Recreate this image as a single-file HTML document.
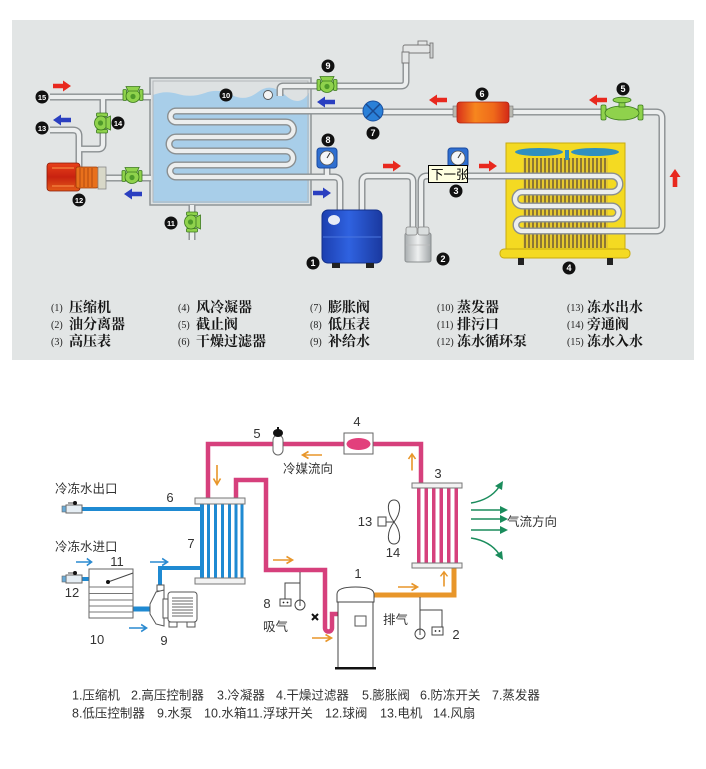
<!DOCTYPE html>
<html><head><meta charset="utf-8">
<style>
html,body{margin:0;padding:0;background:#fff;width:706px;height:769px;overflow:hidden;}
svg{display:block;}
.po{fill:none;stroke:#8a8f91;stroke-width:7;stroke-linejoin:round;stroke-linecap:butt;}
.pi{fill:none;stroke:#eceeee;stroke-width:4.2;stroke-linejoin:round;stroke-linecap:butt;}
.lb{fill:#fff;font-family:"Liberation Sans",sans-serif;font-weight:bold;font-size:9px;text-anchor:middle;}
.lb2{fill:#fff;font-family:"Liberation Sans",sans-serif;font-weight:bold;font-size:7.5px;text-anchor:middle;}
.lg{font-family:"Liberation Serif","Noto Serif CJK SC",serif;font-weight:bold;font-size:14px;fill:#151515;}
.ln{font-family:"Liberation Serif",serif;font-size:10px;fill:#222;}
.bt{font-family:"Liberation Sans","Noto Sans CJK SC",sans-serif;font-size:12.5px;fill:#333;}
.bn{font-family:"Liberation Sans",sans-serif;font-size:13px;fill:#333;text-anchor:middle;}
.mg{fill:none;stroke:#d6407c;stroke-width:4.5;stroke-linejoin:miter;}
.bl{fill:none;stroke:#1f8ad2;stroke-width:4;}
.th{fill:none;stroke:#444;stroke-width:1;}
</style></head><body>
<svg width="706" height="769" viewBox="0 0 706 769" xmlns="http://www.w3.org/2000/svg" xmlns:xlink="http://www.w3.org/1999/xlink">
<defs>
 <linearGradient id="gBlue" x1="0" y1="0" x2="1" y2="0">
  <stop offset="0" stop-color="#1c3fb0"/><stop offset="0.45" stop-color="#2f62e0"/><stop offset="1" stop-color="#1a39a0"/>
 </linearGradient>
 <linearGradient id="gSil" x1="0" y1="0" x2="1" y2="0">
  <stop offset="0" stop-color="#a9aeb0"/><stop offset="0.5" stop-color="#eef0f0"/><stop offset="1" stop-color="#a0a5a7"/>
 </linearGradient>
 <linearGradient id="gFil" x1="0" y1="0" x2="1" y2="0">
  <stop offset="0" stop-color="#d9301a"/><stop offset="0.35" stop-color="#f6861e"/><stop offset="0.7" stop-color="#ef6a1a"/><stop offset="1" stop-color="#d42a18"/>
 </linearGradient>
 <linearGradient id="gPump" x1="0" y1="0" x2="0" y2="1">
  <stop offset="0" stop-color="#e8401a"/><stop offset="0.5" stop-color="#c82210"/><stop offset="1" stop-color="#e25a18"/>
 </linearGradient>
 <pattern id="fins" width="4" height="10" patternUnits="userSpaceOnUse">
  <rect width="4" height="10" fill="#e6c92e"/><rect width="2" height="10" fill="#8c7634"/>
 </pattern>
 <g id="gv">
  <rect x="-10" y="-5.5" width="3.5" height="11" rx="1" fill="#8fd24c" stroke="#3b7a1e" stroke-width="0.8"/>
  <rect x="6.5" y="-5.5" width="3.5" height="11" rx="1" fill="#8fd24c" stroke="#3b7a1e" stroke-width="0.8"/>
  <ellipse cx="0" cy="1" rx="7" ry="6.5" fill="#8fd24c" stroke="#3b7a1e" stroke-width="0.8"/>
  <path d="M-7 -8.5 L7 -8.5 L5 -4 L-5 -4 Z" fill="#8fd24c" stroke="#3b7a1e" stroke-width="0.8"/>
  <circle cx="0" cy="1.5" r="2.6" fill="#4f9a2a"/>
 </g>
 <path id="ar" d="M-9,-2.3 H1 V-5.5 L9,0 L1,5.5 V2.3 H-9 Z"/>
 <g id="oa"><path d="M-10 0 H9 M3.5 -3.5 L9.5 0 L3.5 3.5" fill="none" stroke-width="1.6"/></g>
 <g id="gauge">
  <rect x="-10" y="-10" width="20" height="20" rx="3" fill="#2f6fd0" stroke="#1a4aa0"/>
  <circle cx="0" cy="0" r="7" fill="#f4f6f8" stroke="#555" stroke-width="0.8"/>
  <line x1="0" y1="0" x2="3" y2="-5" stroke="#333" stroke-width="1"/>
 </g>
</defs>

<!-- ================= TOP PANEL ================= -->
<rect x="12" y="20" width="682" height="340" fill="#e2e5e5"/>

<!-- tank -->
<rect x="150" y="78" width="161" height="127" fill="#dde1e2" stroke="#8f9597" stroke-width="1.5"/>
<path d="M153 95 Q165 90 178 94 T205 93 T232 95 T258 92 T285 95 T309 93 V203 H153 Z" fill="#a8cee9"/>
<rect x="153" y="81" width="155" height="121" fill="none" stroke="#b3b8ba" stroke-width="1"/>

<!-- condenser body -->
<rect x="506" y="143" width="119" height="107" fill="#f4da22" stroke="#c8aa10"/>
<rect x="523" y="158" width="85" height="90" fill="url(#fins)"/>
<ellipse cx="539" cy="152" rx="24" ry="4" fill="#2f8fc0"/>
<ellipse cx="595" cy="152" rx="24" ry="4" fill="#2f8fc0"/>
<rect x="565" y="150" width="4" height="10" fill="#2f8fc0"/>
<rect x="500" y="249" width="130" height="9" rx="4" fill="#f4da22" stroke="#c8aa10"/>
<rect x="518" y="258" width="6" height="7" fill="#222"/>
<rect x="607" y="258" width="6" height="7" fill="#222"/>

<!-- pipes -->
<g>
 <path class="po" d="M50 97 L151 97"/>
 <path class="po" d="M103 97 L103 144 Q103 149 98 149 L80 149"/>
 <path class="po" d="M50 130 L73 130 Q79 130 79 136 L79 168"/>
 <path class="po" d="M104 178 L151 178"/>
 <path class="po" d="M192 205 L192 240"/>
 <path class="po" d="M280 96 L280 89 Q280 86 283 86 L401 86 Q406 86 406 81 L406 62"/>
 <path class="po" d="M383 111 L176 111 A5.5 5.5 0 0 0 176 122 L286 122 A7.5 7.5 0 0 1 286 137 L176 137 A7 7 0 0 0 176 151 L286 151 A7 7 0 0 1 286 165 L176 165 A6 6 0 0 0 176 177 L334 177 Q340 177 340 183 L340 211"/>
 <path class="po" d="M362 211 L362 182 Q362 176 368 176 L407 176 Q413 176 413 182 L413 229"/>
 <path class="po" d="M421 229 L421 182 Q421 176 427 176 L612 176 A8 8 0 0 1 612 192 L522 192 A7 7 0 0 0 522 206 L612 206 A6.5 6.5 0 0 1 612 219 L522 219 A6 6 0 0 0 522 231 L656 231 Q662 231 662 225 L662 118 Q662 112 656 112 L380 112"/>
 <path class="po" d="M327 166 L327 177"/>
 <path class="po" d="M458 166 L458 176"/>

 <path class="pi" d="M50 97 L151 97"/>
 <path class="pi" d="M103 97 L103 144 Q103 149 98 149 L80 149"/>
 <path class="pi" d="M50 130 L73 130 Q79 130 79 136 L79 168"/>
 <path class="pi" d="M104 178 L151 178"/>
 <path class="pi" d="M192 205 L192 240"/>
 <path class="pi" d="M280 96 L280 89 Q280 86 283 86 L401 86 Q406 86 406 81 L406 62"/>
 <path class="pi" d="M383 111 L176 111 A5.5 5.5 0 0 0 176 122 L286 122 A7.5 7.5 0 0 1 286 137 L176 137 A7 7 0 0 0 176 151 L286 151 A7 7 0 0 1 286 165 L176 165 A6 6 0 0 0 176 177 L334 177 Q340 177 340 183 L340 211"/>
 <path class="pi" d="M362 211 L362 182 Q362 176 368 176 L407 176 Q413 176 413 182 L413 229"/>
 <path class="pi" d="M421 229 L421 182 Q421 176 427 176 L612 176 A8 8 0 0 1 612 192 L522 192 A7 7 0 0 0 522 206 L612 206 A6.5 6.5 0 0 1 612 219 L522 219 A6 6 0 0 0 522 231 L656 231 Q662 231 662 225 L662 118 Q662 112 656 112 L380 112"/>
 <path class="pi" d="M327 166 L327 177"/>
 <path class="pi" d="M458 166 L458 176"/>
</g>

<!-- float ball -->
<circle cx="268" cy="95" r="4.5" fill="#f4f4f4" stroke="#555" stroke-width="0.9"/>

<!-- faucet -->
<rect x="403" y="45" width="27" height="8" rx="2" fill="#e4e6e6" stroke="#777" stroke-width="0.9"/>
<path d="M402 52 L402 63 L409 63 L409 52 Z" fill="#e4e6e6" stroke="#777" stroke-width="0.9"/>
<rect x="418" y="41" width="9" height="4" fill="#e4e6e6" stroke="#777" stroke-width="0.9"/>
<rect x="430" y="43" width="3" height="15" fill="#cfd2d2" stroke="#777" stroke-width="0.9"/>

<!-- pump 12 -->
<rect x="47" y="163" width="33" height="28" rx="3" fill="url(#gPump)" stroke="#8a1a08" stroke-width="0.8"/>
<rect x="76" y="167" width="22" height="21" rx="2" fill="#e8701c" stroke="#9a3a08" stroke-width="0.8"/>
<path d="M80 168 V187 M84 168 V187 M88 168 V187 M92 168 V187" stroke="#b24a10" stroke-width="1"/>
<rect x="98" y="167" width="8" height="22" fill="#d8d8c8" stroke="#888" stroke-width="0.8"/>
<path d="M52 168 H74 M52 186 H74" stroke="#f07a3a" stroke-width="1.5"/>

<!-- valves -->
<use xlink:href="#gv" transform="translate(133,95)"/>
<use xlink:href="#gv" transform="translate(102,123) rotate(90)"/>
<use xlink:href="#gv" transform="translate(132,176)"/>
<use xlink:href="#gv" transform="translate(327,85)"/>
<use xlink:href="#gv" transform="translate(192,222) rotate(90)"/>

<!-- valve 5 (gate) -->
<rect x="601" y="105" width="5" height="15" rx="1.5" fill="#8fd24c" stroke="#3b7a1e" stroke-width="0.8"/>
<rect x="638" y="105" width="5" height="15" rx="1.5" fill="#8fd24c" stroke="#3b7a1e" stroke-width="0.8"/>
<ellipse cx="622" cy="113" rx="17" ry="7" fill="#8fd24c" stroke="#3b7a1e" stroke-width="0.8"/>
<rect x="619" y="100" width="6" height="7" fill="#8fd24c" stroke="#3b7a1e" stroke-width="0.8"/>
<ellipse cx="622" cy="100" rx="9" ry="2.8" fill="#8fd24c" stroke="#3b7a1e" stroke-width="0.8"/>

<!-- expansion valve 7 -->
<circle cx="373" cy="111" r="10" fill="#2a80d8" stroke="#1a50a0"/>
<path d="M366 104 L380 118 M380 104 L366 118" stroke="#1a4a90" stroke-width="1.5"/>

<!-- filter 6 -->
<rect x="453" y="106" width="5" height="11" fill="#b8b8b0" stroke="#777" stroke-width="0.6"/>
<rect x="508" y="106" width="5" height="11" fill="#b8b8b0" stroke="#777" stroke-width="0.6"/>
<rect x="457" y="102" width="52" height="21" rx="3" fill="url(#gFil)" stroke="#b02010" stroke-width="0.8"/>

<!-- gauges -->
<use xlink:href="#gauge" transform="translate(327,158)"/>
<use xlink:href="#gauge" transform="translate(458,158)"/>

<!-- compressor 1 -->
<rect x="322" y="210" width="60" height="53" rx="6" fill="url(#gBlue)" stroke="#13308a"/>
<line x1="323" y1="237" x2="381" y2="237" stroke="#4a76e0" stroke-width="1"/>
<ellipse cx="334" cy="220" rx="6" ry="5" fill="#e8ecf6"/>
<rect x="332" y="263" width="8" height="5" fill="#222"/>
<rect x="366" y="263" width="8" height="5" fill="#222"/>

<!-- separator 2 -->
<rect x="405" y="233" width="26" height="29" rx="2" fill="url(#gSil)" stroke="#8a8e90"/>
<rect x="406" y="227" width="11" height="8" rx="2" fill="#dadede" stroke="#888" stroke-width="0.8"/>
<rect x="418" y="227" width="11" height="8" rx="2" fill="#dadede" stroke="#888" stroke-width="0.8"/>
<line x1="406" y1="245" x2="430" y2="245" stroke="#bbb" stroke-width="0.8"/>

<!-- arrows top -->
<use xlink:href="#ar" fill="#e8281e" transform="translate(62,86)"/>
<use xlink:href="#ar" fill="#2a3fc0" transform="translate(62,120) rotate(180)"/>
<use xlink:href="#ar" fill="#2a3fc0" transform="translate(133,194) rotate(180)"/>
<use xlink:href="#ar" fill="#2a3fc0" transform="translate(326,102) rotate(180)"/>
<use xlink:href="#ar" fill="#2a3fc0" transform="translate(322,193)"/>
<use xlink:href="#ar" fill="#e8281e" transform="translate(438,100) rotate(180)"/>
<use xlink:href="#ar" fill="#e8281e" transform="translate(598,100) rotate(180)"/>
<use xlink:href="#ar" fill="#e8281e" transform="translate(392,166)"/>
<use xlink:href="#ar" fill="#e8281e" transform="translate(488,166)"/>
<use xlink:href="#ar" fill="#e8281e" transform="translate(675,178) rotate(-90)"/>

<!-- number labels top -->
<g>
 <circle cx="42" cy="97" r="6.5" fill="#111"/><text class="lb2" x="42" y="100">15</text>
 <circle cx="42" cy="128" r="6.5" fill="#111"/><text class="lb2" x="42" y="131">13</text>
 <circle cx="118" cy="123" r="6.5" fill="#111"/><text class="lb2" x="118" y="126">14</text>
 <circle cx="79" cy="200" r="6.5" fill="#111"/><text class="lb2" x="79" y="203">12</text>
 <circle cx="171" cy="223" r="6.5" fill="#111"/><text class="lb2" x="171" y="226">11</text>
 <circle cx="226" cy="95" r="6.5" fill="#111"/><text class="lb2" x="226" y="98">10</text>
 <circle cx="328" cy="66" r="6.5" fill="#111"/><text class="lb" x="328" y="69">9</text>
 <circle cx="328" cy="140" r="6.5" fill="#111"/><text class="lb" x="328" y="143">8</text>
 <circle cx="313" cy="263" r="6.5" fill="#111"/><text class="lb" x="313" y="266">1</text>
 <circle cx="373" cy="133" r="6.5" fill="#111"/><text class="lb" x="373" y="136">7</text>
 <circle cx="482" cy="94" r="6.5" fill="#111"/><text class="lb" x="482" y="97">6</text>
 <circle cx="623" cy="89" r="6.5" fill="#111"/><text class="lb" x="623" y="92">5</text>
 <circle cx="456" cy="191" r="6.5" fill="#111"/><text class="lb" x="456" y="194">3</text>
 <circle cx="443" cy="259" r="6.5" fill="#111"/><text class="lb" x="443" y="262">2</text>
 <circle cx="569" cy="268" r="6.5" fill="#111"/><text class="lb" x="569" y="271">4</text>
</g>

<!-- tooltip -->
<rect x="428.5" y="165.5" width="39" height="17" fill="#ffffe1" stroke="#000" stroke-width="1"/>
<text x="431" y="179" style="font-family:'Liberation Sans','Noto Sans CJK SC',sans-serif;font-size:12.5px;fill:#000;">下一张</text>

<!-- top legend -->
<g>
 <text class="ln" x="51" y="311">(1)</text><text class="lg" x="69" y="312">压缩机</text>
 <text class="ln" x="51" y="328">(2)</text><text class="lg" x="69" y="329">油分离器</text>
 <text class="ln" x="51" y="345">(3)</text><text class="lg" x="69" y="346">高压表</text>
 <text class="ln" x="178" y="311">(4)</text><text class="lg" x="196" y="312">风冷凝器</text>
 <text class="ln" x="178" y="328">(5)</text><text class="lg" x="196" y="329">截止阀</text>
 <text class="ln" x="178" y="345">(6)</text><text class="lg" x="196" y="346">干燥过滤器</text>
 <text class="ln" x="310" y="311">(7)</text><text class="lg" x="328" y="312">膨胀阀</text>
 <text class="ln" x="310" y="328">(8)</text><text class="lg" x="328" y="329">低压表</text>
 <text class="ln" x="310" y="345">(9)</text><text class="lg" x="328" y="346">补给水</text>
 <text class="ln" x="437" y="311">(10)</text><text class="lg" x="457" y="312">蒸发器</text>
 <text class="ln" x="437" y="328">(11)</text><text class="lg" x="457" y="329">排污口</text>
 <text class="ln" x="437" y="345">(12)</text><text class="lg" x="457" y="346">冻水循环泵</text>
 <text class="ln" x="567" y="311">(13)</text><text class="lg" x="587" y="312">冻水出水</text>
 <text class="ln" x="567" y="328">(14)</text><text class="lg" x="587" y="329">旁通阀</text>
 <text class="ln" x="567" y="345">(15)</text><text class="lg" x="587" y="346">冻水入水</text>
</g>

<!-- ================= BOTTOM DIAGRAM ================= -->
<!-- magenta pipes -->
<path class="mg" d="M208 499 L208 444 L421 444 L421 484"/>
<path class="mg" d="M236 499 L236 480 L266 480 L266 570 L325 570 L325 628 A3.5 3.5 0 0 0 332 628 L332 614 L339 614"/>
<!-- orange pipe -->
<path d="M373 595 L454 595 L454 568" fill="none" stroke="#e8962a" stroke-width="5"/>
<!-- blue pipes -->
<path class="bl" d="M80 509 L201 509"/>
<path class="bl" d="M160 590 L160 568 L201 568"/>
<path d="M133 609 L151 609" fill="none" stroke="#1f8ad2" stroke-width="5"/>
<path class="bl" d="M80 579 L90 579"/>

<!-- filter 4 -->
<rect x="344" y="433" width="29" height="21" fill="#fff" stroke="#666"/>
<ellipse cx="358.5" cy="444" rx="12" ry="6" fill="#e2407c"/>
<!-- expansion valve 5 -->
<rect x="273" y="435" width="10" height="20" rx="5" fill="#fff" stroke="#666"/>
<ellipse cx="278" cy="433" rx="5" ry="4" fill="#111"/>
<rect x="277" y="427" width="2" height="3" fill="#111"/>

<!-- evaporator 7 -->
<g fill="#1f8ad2">
 <rect x="200" y="504" width="4" height="74"/>
 <rect x="207" y="504" width="3" height="74"/>
 <rect x="214" y="504" width="3" height="74"/>
 <rect x="221" y="504" width="3" height="74"/>
 <rect x="228" y="504" width="3" height="74"/>
 <rect x="234.5" y="504" width="3" height="74"/>
 <rect x="240.5" y="504" width="3" height="74"/>
</g>
<rect x="195" y="498" width="50" height="6" fill="#f2f2f2" stroke="#777"/>
<rect x="195" y="578" width="50" height="6" fill="#f2f2f2" stroke="#777"/>

<!-- condenser 3 -->
<g fill="#d6407c">
 <rect x="417" y="488" width="3.5" height="75"/>
 <rect x="424.5" y="488" width="3.5" height="75"/>
 <rect x="432" y="488" width="3.5" height="75"/>
 <rect x="439.5" y="488" width="3.5" height="75"/>
 <rect x="447" y="488" width="3.5" height="75"/>
 <rect x="454.5" y="488" width="3.5" height="75"/>
</g>
<rect x="412" y="483" width="50" height="5" fill="#f2f2f2" stroke="#777"/>
<rect x="412" y="563" width="50" height="5" fill="#f2f2f2" stroke="#777"/>

<!-- ball valves -->
<rect x="66" y="505" width="16" height="8" fill="#e6eef4" stroke="#666"/>
<rect x="62" y="506" width="4" height="6" fill="#6aaad6" stroke="#666" stroke-width="0.6"/>
<line x1="68" y1="503" x2="75" y2="503" stroke="#444"/>
<circle cx="75" cy="503" r="2" fill="#111"/>
<rect x="66" y="575" width="16" height="8" fill="#e6eef4" stroke="#666"/>
<rect x="62" y="576" width="4" height="6" fill="#6aaad6" stroke="#666" stroke-width="0.6"/>
<line x1="68" y1="573" x2="75" y2="573" stroke="#444"/>
<circle cx="75" cy="573" r="2" fill="#111"/>

<!-- tank 10 -->
<rect x="89" y="569" width="44" height="49" fill="#fff" stroke="#666"/>
<path d="M89 587 H133 M89 593.5 H133 M89 600 H133 M89 606 H133 M89 612 H133" stroke="#777" stroke-width="1"/>
<line x1="108" y1="582" x2="133" y2="573" stroke="#444"/>
<circle cx="108" cy="582" r="2" fill="#111"/>

<!-- pump 9 -->
<rect x="157" y="585" width="7" height="6" fill="#fff" stroke="#555"/>
<path d="M164 590 L156 592 L150 604 L150 614 L156 624 L164 626 Z" fill="#fff" stroke="#555"/>
<rect x="163" y="599" width="5" height="19" fill="#fff" stroke="#555"/>
<rect x="168" y="592" width="29" height="30" rx="3" fill="#fff" stroke="#555"/>
<path d="M172 598 H193 M172 601 H193 M172 604 H193 M172 607 H193 M172 610 H193 M172 613 H193 M172 616 H193" stroke="#666" stroke-width="1"/>
<rect x="169" y="622" width="8" height="5" fill="#fff" stroke="#555"/>
<rect x="187" y="622" width="8" height="5" fill="#fff" stroke="#555"/>

<!-- compressor 1 -->
<path d="M338 668 L338 602 L373 602 L373 668" fill="#fff" stroke="#444"/>
<path d="M337 602 L337 594 Q337 587 355.5 587 Q374 587 374 594 L374 602 Z" fill="#fff" stroke="#444"/>
<rect x="355" y="616" width="11" height="10" fill="#fff" stroke="#555"/>
<rect x="335" y="667" width="41" height="2.5" fill="#111"/>

<!-- low pressure 8 -->
<path class="th" d="M300 572 V600 M300 583 H285 V599"/>
<rect x="280" y="599" width="11" height="7" fill="#fff" stroke="#444"/>
<circle cx="283.5" cy="602.5" r="0.9" fill="#222"/><circle cx="287.5" cy="602.5" r="0.9" fill="#222"/>
<circle cx="300" cy="605" r="5" fill="#fff" stroke="#444"/>
<line x1="300" y1="600" x2="300" y2="606" stroke="#444"/>
<!-- high pressure 2 -->
<path class="th" d="M420 597 V629 M420 610 H442 V627"/>
<rect x="432" y="627" width="11" height="8" fill="#fff" stroke="#444"/>
<circle cx="435.5" cy="631" r="0.9" fill="#222"/><circle cx="439.5" cy="631" r="0.9" fill="#222"/>
<circle cx="420" cy="634" r="5" fill="#fff" stroke="#444"/>
<line x1="420" y1="629" x2="420" y2="635" stroke="#444"/>

<!-- × -->
<path d="M312 614 L318 620 M318 614 L312 620" stroke="#111" stroke-width="2"/>

<!-- fan -->
<rect x="378" y="517" width="8" height="9" fill="#fff" stroke="#444"/>
<line x1="386" y1="522" x2="394" y2="522" stroke="#444"/>
<path d="M394 522 C387 513 386 500 394 500 C402 500 401 513 394 522 C387 531 386 544 394 544 C402 544 401 531 394 522 Z" fill="#fff" stroke="#444"/>

<!-- green airflow -->
<g stroke="#1a8c5c" stroke-width="1.5" fill="none">
 <path d="M471 510 H502"/><path d="M471 519 H502"/><path d="M471 530 H502"/>
 <path d="M471 503 Q490 500 499 487"/>
 <path d="M471 538 Q490 541 499 554"/>
</g>
<g fill="#1a8c5c">
 <polygon points="508,510 500,506 500,514"/>
 <polygon points="508,519 500,515 500,523"/>
 <polygon points="508,530 500,526 500,534"/>
 <polygon points="503,481 495,486 502,490"/>
 <polygon points="503,560 495,555 502,551"/>
</g>

<!-- orange arrows -->
<g stroke="#e8962a">
 <use xlink:href="#oa" transform="translate(217,475) rotate(90)"/>
 <use xlink:href="#oa" transform="translate(312,455) rotate(180)"/>
 <use xlink:href="#oa" transform="translate(283,560)"/>
 <use xlink:href="#oa" transform="translate(322,638)"/>
 <use xlink:href="#oa" transform="translate(408,587)"/>
 <use xlink:href="#oa" transform="translate(444,579) rotate(-90) scale(0.75,1)"/>
 <use xlink:href="#oa" transform="translate(412,462) rotate(-90) scale(0.85,1)"/>
</g>
<g stroke="#2a8ad0">
 <use xlink:href="#oa" transform="translate(84,562) scale(0.8,1)"/>
 <use xlink:href="#oa" transform="translate(159,562) scale(0.9,1)"/>
 <use xlink:href="#oa" transform="translate(138,628) scale(0.9,1)"/>
</g>

<!-- bottom texts -->
<text class="bt" x="55" y="493">冷冻水出口</text>
<text class="bt" x="55" y="551">冷冻水进口</text>
<text class="bt" x="283" y="473">冷媒流向</text>
<text class="bt" x="507" y="526">气流方向</text>
<text class="bt" x="263" y="631">吸气</text>
<text class="bt" x="383" y="624">排气</text>

<text class="bn" x="257" y="438">5</text>
<text class="bn" x="357" y="426">4</text>
<text class="bn" x="438" y="478">3</text>
<text class="bn" x="170" y="502">6</text>
<text class="bn" x="191" y="548">7</text>
<text class="bn" x="117" y="566">11</text>
<text class="bn" x="72" y="597">12</text>
<text class="bn" x="97" y="644">10</text>
<text class="bn" x="164" y="645">9</text>
<text class="bn" x="267" y="608">8</text>
<text class="bn" x="358" y="578">1</text>
<text class="bn" x="365" y="526">13</text>
<text class="bn" x="393" y="557">14</text>
<text class="bn" x="456" y="639">2</text>

<!-- bottom legend -->
<text class="bt" x="72" y="699.5">1.压缩机</text>
<text class="bt" x="131" y="699.5">2.高压控制器</text>
<text class="bt" x="217" y="699.5">3.冷凝器</text>
<text class="bt" x="276" y="699.5">4.干燥过滤器</text>
<text class="bt" x="362" y="699.5">5.膨胀阀</text>
<text class="bt" x="420" y="699.5">6.防冻开关</text>
<text class="bt" x="492" y="699.5">7.蒸发器</text>
<text class="bt" x="72" y="717.5">8.低压控制器</text>
<text class="bt" x="157" y="717.5">9.水泵</text>
<text class="bt" x="204" y="717.5">10.水箱11.浮球开关</text>
<text class="bt" x="325" y="717.5">12.球阀</text>
<text class="bt" x="380" y="717.5">13.电机</text>
<text class="bt" x="433" y="717.5">14.风扇</text>
</svg>
</body></html>
